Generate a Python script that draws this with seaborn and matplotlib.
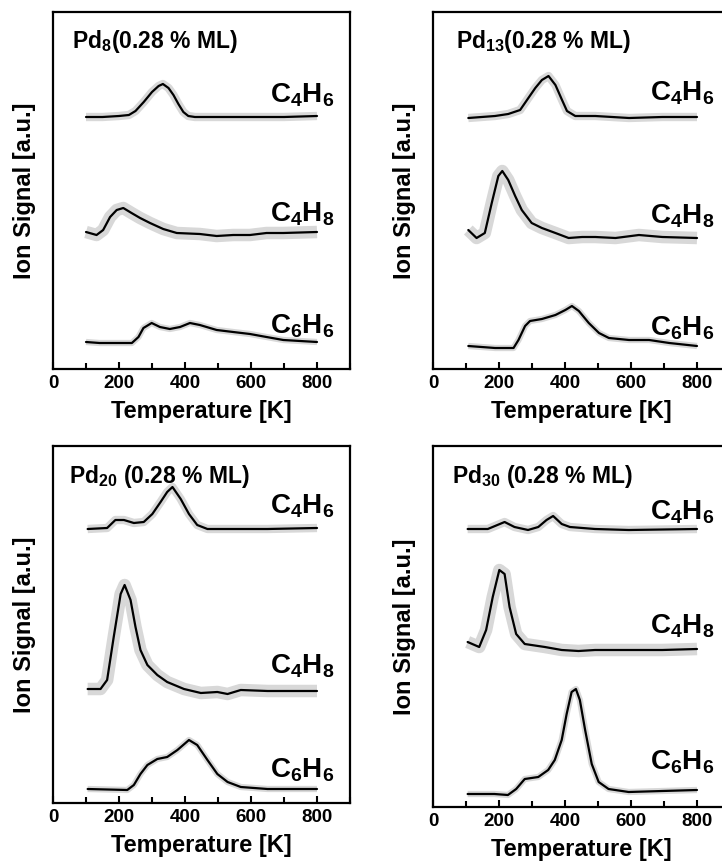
import matplotlib
matplotlib.use("Agg")
import matplotlib.pyplot as plt
import seaborn as sns
import pandas as pd
from matplotlib.ticker import MultipleLocator

sns.set_theme(style="white")
plt.rcParams['font.family'] = ['Liberation Sans', 'DejaVu Sans']
plt.rcParams['mathtext.default'] = 'regular'
plt.rcParams['text.color'] = 'black'
plt.rcParams['axes.labelcolor'] = 'black'
plt.rcParams['xtick.color'] = 'black'
plt.rcParams['ytick.color'] = 'black'

# ---------------- data ----------------
# Panel Pd8
pd8_c4h6_T = [100, 150, 200, 230, 250, 275, 300, 320, 333, 350, 365, 380, 395, 410, 430, 500, 600, 700, 800]
pd8_c4h6_S = [252, 252, 253, 254, 258, 267, 277, 283, 285, 281, 274, 265, 257, 253, 252, 252, 252, 252, 253]
pd8_c4h8_T = [100, 132, 152, 173, 193, 213, 238, 264, 294, 334, 375, 445, 496, 546, 597, 647, 698, 800]
pd8_c4h8_S = [137, 134, 139, 152, 159, 161, 156, 151, 146, 140, 136, 135, 133, 134, 134, 136, 136, 137]
pd8_c6h6_T = [100, 141, 193, 239, 259, 274, 299, 324, 354, 385, 415, 445, 496, 546, 597, 647, 698, 800]
pd8_c6h6_S = [27, 26, 26, 26, 32, 41, 46, 42, 40, 42, 46, 44, 39, 37, 35, 32, 29, 27]

# Panel Pd13
pd13_c4h6_T = [107, 188, 228, 264, 289, 310, 330, 350, 371, 391, 406, 431, 492, 594, 695, 800]
pd13_c4h6_S = [251, 253, 255, 259, 271, 281, 289, 293, 284, 269, 258, 253, 253, 251, 252, 252]
pd13_c4h8_T = [107, 132, 157, 178, 198, 210, 228, 249, 269, 299, 330, 371, 411, 452, 492, 553, 624, 695, 800]
pd13_c4h8_S = [139, 131, 136, 166, 193, 198, 189, 173, 159, 146, 141, 136, 131, 132, 132, 131, 134, 132, 131]
pd13_c6h6_T = [107, 188, 244, 259, 279, 294, 330, 371, 401, 421, 442, 472, 503, 533, 594, 655, 716, 800]
pd13_c6h6_S = [23, 21, 21, 29, 43, 48, 50, 54, 59, 63, 58, 46, 36, 31, 29, 29, 26, 23]

# Panel Pd20
pd20_c4h6_T = [105, 164, 189, 215, 245, 275, 301, 326, 346, 362, 387, 412, 437, 468, 549, 650, 800]
pd20_c4h6_S = [274, 275, 283, 283, 280, 281, 289, 301, 311, 316, 304, 289, 278, 274, 274, 274, 275]
pd20_c4h8_T = [105, 144, 164, 184, 205, 217, 235, 250, 265, 286, 316, 346, 397, 448, 498, 529, 569, 650, 800]
pd20_c4h8_S = [114, 114, 123, 166, 209, 218, 203, 176, 153, 138, 128, 121, 114, 110, 111, 109, 113, 112, 112]
pd20_c6h6_T = [105, 225, 245, 265, 286, 316, 346, 377, 412, 437, 468, 498, 529, 569, 650, 800]
pd20_c6h6_S = [14, 13, 18, 29, 38, 44, 46, 53, 63, 58, 43, 29, 21, 16, 14, 14]

# Panel Pd30
pd30_c4h6_T = [105, 166, 217, 247, 288, 319, 344, 364, 390, 415, 491, 593, 800]
pd30_c4h6_S = [278, 278, 285, 280, 277, 280, 287, 291, 283, 280, 278, 277, 278]
pd30_c4h8_T = [105, 140, 161, 181, 201, 217, 232, 252, 278, 339, 390, 441, 491, 593, 695, 800]
pd30_c4h8_S = [165, 160, 177, 210, 237, 233, 200, 173, 163, 160, 157, 156, 157, 157, 157, 158]
pd30_c6h6_T = [105, 186, 227, 252, 278, 319, 349, 369, 390, 405, 420, 433, 445, 461, 481, 502, 532, 593, 695, 800]
pd30_c6h6_S = [13, 13, 12, 18, 28, 30, 37, 47, 67, 93, 115, 118, 107, 77, 43, 25, 18, 15, 16, 17]

species = ['C4H6', 'C4H8', 'C6H6']
species_labels = ['C$_4$H$_6$', 'C$_4$H$_8$', 'C$_6$H$_6$']
panel_titles = ['Pd$_{8}$(0.28 % ML)', 'Pd$_{13}$(0.28 % ML)',
                'Pd$_{20}$ (0.28 % ML)', 'Pd$_{30}$ (0.28 % ML)']
tick_values = [0, 200, 400, 600, 800]
tick_labels = ['0', '200', '400', '600', '800']

panels = [
    [(pd8_c4h6_T, pd8_c4h6_S), (pd8_c4h8_T, pd8_c4h8_S), (pd8_c6h6_T, pd8_c6h6_S)],
    [(pd13_c4h6_T, pd13_c4h6_S), (pd13_c4h8_T, pd13_c4h8_S), (pd13_c6h6_T, pd13_c6h6_S)],
    [(pd20_c4h6_T, pd20_c4h6_S), (pd20_c4h8_T, pd20_c4h8_S), (pd20_c6h6_T, pd20_c6h6_S)],
    [(pd30_c4h6_T, pd30_c4h6_S), (pd30_c4h8_T, pd30_c4h8_S), (pd30_c6h6_T, pd30_c6h6_S)],
]

# ---------------- layout ----------------
W, H = 722, 861
fig = plt.figure(figsize=(W / 100, H / 100), dpi=100)

# (left, right, top, bottom) in pixels
boxes = [(53, 350, 12, 369), (433, 730, 12, 369), (53, 350, 446, 803), (433, 730, 446, 807)]
ytops = [357, 357, 357, 361]
label_y = [[267, 147, 36], [269, 146, 34], [289, 129, 26], [287, 173, 37]]
title_pos = [(57, 321), (70, 321), (48, 320), (59, 324)]
halo_w = [6, 9, 4.5]

for i, (l, r, t, b) in enumerate(boxes):
    ax = fig.add_axes([l / W, 1 - b / H, (r - l) / W, (b - t) / H])
    for j, (T, S) in enumerate(panels[i]):
        df = pd.DataFrame({'T': T, 'S': S})
        sns.lineplot(data=df, x='T', y='S', ax=ax, color='#b8b8b8', lw=halo_w[j],
                     alpha=0.55, estimator=None, sort=False, solid_capstyle='butt')
        sns.lineplot(data=df, x='T', y='S', ax=ax, color='black', lw=1.6,
                     estimator=None, sort=False)
        ax.text(852, label_y[i][j], species_labels[j], ha='right', va='baseline',
                fontsize=20, fontweight='bold', color='black')
    ax.text(title_pos[i][0], title_pos[i][1], panel_titles[i], ha='left', va='baseline',
            fontsize=16.5, fontweight='bold', color='black')
    ax.set_xlim(0, 900)
    ax.set_ylim(0, ytops[i])
    ax.set_yticks([])
    ax.xaxis.set_minor_locator(MultipleLocator(100))
    ax.set_xticks(tick_values)
    ax.set_xticklabels(tick_labels)
    ax.tick_params(axis='x', which='both', direction='in', bottom=True, top=False,
                   width=1.5, color='black')
    ax.tick_params(axis='x', which='major', length=5, pad=4, labelsize=13.5,
                   labelcolor='black')
    ax.tick_params(axis='x', which='minor', length=4)
    for lab in ax.get_xticklabels():
        lab.set_fontweight('bold')
    for sp in ax.spines.values():
        sp.set_linewidth(1.6)
        sp.set_color('black')
    ax.set_xlabel('Temperature [K]', fontsize=17, fontweight='bold', labelpad=6,
                  color='black')
    ax.set_ylabel('Ion Signal [a.u.]', fontsize=17, fontweight='bold', labelpad=12,
                  color='black')

fig.savefig('out.png', dpi=100)
